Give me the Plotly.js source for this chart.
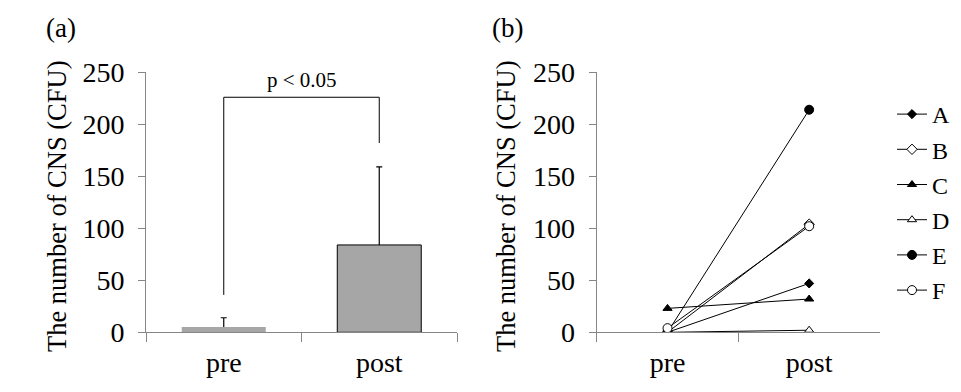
<!DOCTYPE html>
<html>
<head>
<meta charset="utf-8">
<script src="https://cdn.plot.ly/plotly-3.0.1.min.js"></script>
<style>html,body{margin:0;padding:0;background:#fff;}#chart{width:961px;height:392px;}</style>
</head>
<body>
<div id="chart"></div>
<script>
// ---- data ----
const categories = ['pre', 'post'];
const barMeans = [5, 84];
const barErrors = [9, 75];
const bracketX = ['pre', 'pre', 'post', 'post'];
const bracketY = [36, 226, 226, 182];
const pLabel = 'p < 0.05';
const subjects = ['A', 'B', 'C', 'D', 'E', 'F'];
const valuesA = [0, 47];
const valuesB = [0, 104];
const valuesC = [23, 32];
const valuesD = [0, 2];
const valuesE = [0, 214];
const valuesF = [4, 102];
const yTicks = [0, 50, 100, 150, 200, 250];

const FONT = '"Times New Roman", "Liberation Serif", Times, serif';
const AXC = '#868686';

const seriesValues = [valuesA, valuesB, valuesC, valuesD, valuesE, valuesF];
const markerStyles = [
  {symbol: 'diamond', size: 7, color: '#000'},
  {symbol: 'diamond', size: 8, color: '#fff'},
  {symbol: 'triangle-up', size: 8, color: '#000'},
  {symbol: 'triangle-up', size: 8, color: '#fff'},
  {symbol: 'circle', size: 9, color: '#000'},
  {symbol: 'circle', size: 9, color: '#fff'}
];

const traces = [];
traces.push({
  type: 'scatter', mode: 'none', x: categories, y: barMeans, xaxis: 'x', yaxis: 'y',
  error_y: {type: 'data', symmetric: false, array: barErrors,
            arrayminus: barMeans.map(v => v / 2),
            color: '#000', thickness: 1.2, width: 3},
  showlegend: false, hoverinfo: 'skip'
});
traces.push({
  type: 'scatter', mode: 'lines', x: bracketX, y: bracketY, xaxis: 'x', yaxis: 'y',
  line: {color: '#000', width: 1}, showlegend: false, hoverinfo: 'skip'
});
traces.push({
  type: 'bar', x: categories, y: barMeans, xaxis: 'x3', yaxis: 'y3',
  marker: {color: '#a6a6a6', line: {color: '#000', width: [0, 1]}},
  showlegend: false, hoverinfo: 'skip'
});
subjects.forEach((s, i) => {
  const m = markerStyles[i];
  traces.push({
    type: 'scatter', mode: 'lines+markers', name: s, x: categories, y: seriesValues[i],
    xaxis: 'x2', yaxis: 'y2', legendgroup: s,
    line: {color: '#000', width: 1},
    marker: {symbol: m.symbol, size: m.size, color: m.color, line: {color: '#000', width: 1}}
  });
});

const yAxisCommon = {
  range: [0, 250], tickvals: yTicks, ticks: 'outside', ticklen: 7, tickcolor: AXC,
  showline: true, linecolor: AXC, linewidth: 1, showgrid: false, zeroline: false,
  tickfont: {family: FONT, size: 28, color: '#000'}, ticklabelstandoff: 8, fixedrange: true
};
const xAxisCommon = {
  type: 'category', range: [-0.5, 1.5], ticks: 'outside', tickson: 'boundaries', ticklen: 9, tickcolor: AXC,
  showline: true, linecolor: AXC, linewidth: 1, showgrid: false, zeroline: false,
  tickfont: {family: FONT, size: 28, color: '#000'}, ticklabelstandoff: 5, fixedrange: true
};
const DOMX1 = [146 / 961, 457 / 961];
const DOMX2 = [596.7 / 961, 880 / 961];
const DOMY = [59.7 / 392, 319.7 / 392];

const layout = {
  width: 961, height: 392,
  margin: {l: 0, r: 0, t: 0, b: 0},
  paper_bgcolor: '#fff', plot_bgcolor: '#fff',
  font: {family: FONT, color: '#000'},
  bargap: 0.46,
  xaxis: Object.assign({}, xAxisCommon, {domain: DOMX1, anchor: 'y'}),
  yaxis: Object.assign({}, yAxisCommon, {domain: DOMY, anchor: 'x'}),
  xaxis3: {type: 'category', range: [-0.5, 1.5], overlaying: 'x', anchor: 'y3', visible: false, fixedrange: true},
  yaxis3: {range: [0, 250], overlaying: 'y', anchor: 'x3', visible: false, fixedrange: true},
  xaxis2: Object.assign({}, xAxisCommon, {domain: DOMX2, anchor: 'y2'}),
  yaxis2: Object.assign({}, yAxisCommon, {domain: DOMY, anchor: 'x2'}),
  showlegend: true,
  legend: {x: 892 / 961, xanchor: 'left', y: 1 - 92 / 392, yanchor: 'top',
           font: {family: FONT, size: 24, color: '#000'}, tracegroupgap: 1,
           itemwidth: 30, bgcolor: 'rgba(0,0,0,0)'},
  annotations: [
    {text: '(a)', xref: 'paper', yref: 'paper', x: 61 / 961, y: 1 - 28 / 392,
     xanchor: 'center', yanchor: 'middle', showarrow: false, font: {family: FONT, size: 27}},
    {text: '(b)', xref: 'paper', yref: 'paper', x: 507 / 961, y: 1 - 28 / 392,
     xanchor: 'center', yanchor: 'middle', showarrow: false, font: {family: FONT, size: 27}},
    {text: 'The number of CNS (CFU)', xref: 'paper', yref: 'paper', x: 57 / 961, y: 1 - 207 / 392,
     xanchor: 'center', yanchor: 'middle', textangle: -90, showarrow: false, font: {family: FONT, size: 26.5}},
    {text: 'The number of CNS (CFU)', xref: 'paper', yref: 'paper', x: 506 / 961, y: 1 - 207 / 392,
     xanchor: 'center', yanchor: 'middle', textangle: -90, showarrow: false, font: {family: FONT, size: 26.5}},
    {text: pLabel, xref: 'x', yref: 'y', x: 0.5, y: 243, xanchor: 'center', yanchor: 'middle',
     showarrow: false, font: {family: FONT, size: 21}}
  ]
};

Plotly.newPlot('chart', traces, layout, {staticPlot: true, displayModeBar: false});
</script>
</body>
</html>
